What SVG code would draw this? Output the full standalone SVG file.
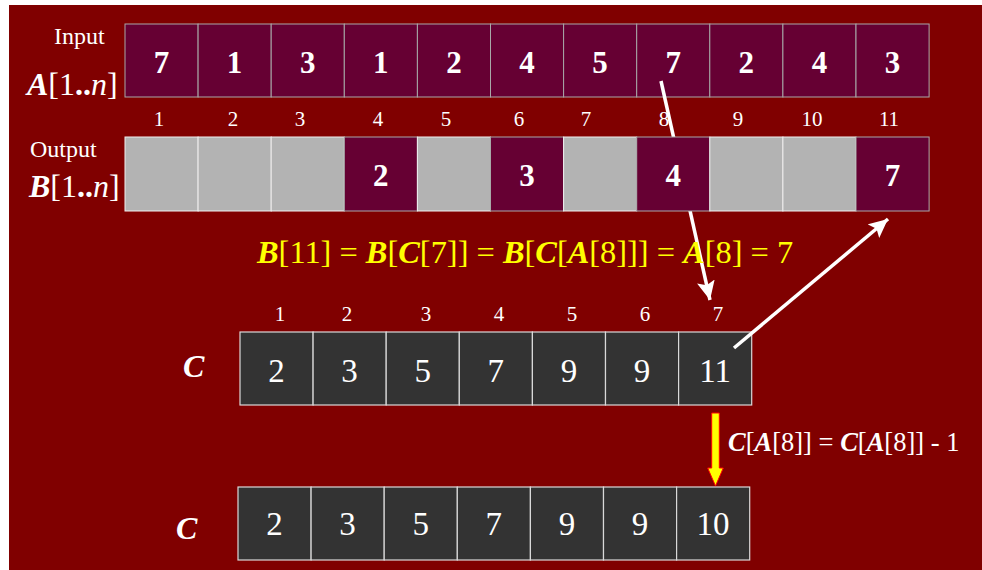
<svg xmlns="http://www.w3.org/2000/svg" width="982" height="570" viewBox="0 0 982 570">
<style>
text{font-family:"Liberation Serif","Times New Roman",serif;fill:#fff}
.a{fill:#660033;stroke:#a8a8a8;stroke-width:1}
.g{fill:#b3b3b3;stroke:#f0f0f0;stroke-width:1}
.c{fill:#333333;stroke:#d9d9d9;stroke-width:1.2}
.bv{font-size:31px;font-weight:bold;text-anchor:middle}
.cv{font-size:33px;text-anchor:middle}
.ix{font-size:21px;text-anchor:middle}
.lbl{font-size:24px}
.big{font-size:32px}
.eq{font-size:32.4px;fill:#ffff00}
.bi{font-weight:bold;font-style:italic}
.wl{stroke:#fff;stroke-width:3.5;fill:none}
</style>
<defs>
<marker id="ah" markerUnits="userSpaceOnUse" markerWidth="22" markerHeight="20" refX="19" refY="9" orient="auto">
<path d="M0,0 L19,9 L0,18 L4,9 Z" fill="#fff"/>
</marker>
</defs>
<rect x="9" y="5" width="973" height="565" fill="#800000"/>
<g id="labels">
<text class="lbl" x="54" y="44">Input</text>
<text class="big" x="27" y="95"><tspan class="bi">A</tspan>[1<tspan font-weight="bold">..</tspan><tspan font-style="italic">n</tspan>]</text>
<text class="lbl" x="30" y="157">Output</text>
<text class="big" x="29" y="197"><tspan class="bi">B</tspan>[1<tspan font-weight="bold">..</tspan><tspan font-style="italic">n</tspan>]</text>
</g>
<g id="arrayA">
<rect class="a" x="125" y="24" width="73.1" height="73"/>
<rect class="a" x="198.1" y="24" width="73.1" height="73"/>
<rect class="a" x="271.2" y="24" width="73.1" height="73"/>
<rect class="a" x="344.3" y="24" width="73.1" height="73"/>
<rect class="a" x="417.4" y="24" width="73.1" height="73"/>
<rect class="a" x="490.5" y="24" width="73.1" height="73"/>
<rect class="a" x="563.6" y="24" width="73.1" height="73"/>
<rect class="a" x="636.7" y="24" width="73.1" height="73"/>
<rect class="a" x="709.8" y="24" width="73.1" height="73"/>
<rect class="a" x="782.9" y="24" width="73.1" height="73"/>
<rect class="a" x="856" y="24" width="73.1" height="73"/>
<text class="bv" x="161.5" y="73">7</text>
<text class="bv" x="234.6" y="73">1</text>
<text class="bv" x="307.7" y="73">3</text>
<text class="bv" x="380.8" y="73">1</text>
<text class="bv" x="453.9" y="73">2</text>
<text class="bv" x="527" y="73">4</text>
<text class="bv" x="600.1" y="73">5</text>
<text class="bv" x="673.2" y="73">7</text>
<text class="bv" x="746.3" y="73">2</text>
<text class="bv" x="819.4" y="73">4</text>
<text class="bv" x="892.5" y="73">3</text>
</g>
<g id="indexA">
<text class="ix" x="159" y="126">1</text>
<text class="ix" x="233" y="126">2</text>
<text class="ix" x="300" y="126">3</text>
<text class="ix" x="378" y="126">4</text>
<text class="ix" x="446" y="126">5</text>
<text class="ix" x="519" y="126">6</text>
<text class="ix" x="586" y="126">7</text>
<text class="ix" x="664" y="126">8</text>
<text class="ix" x="738" y="126">9</text>
<text class="ix" x="812" y="126">10</text>
<text class="ix" x="889" y="126">11</text>
</g>
<g id="connectors">
<line class="wl" x1="661" y1="81" x2="710" y2="300" marker-end="url(#ah)"/>
</g>
<g id="arrayB">
<rect class="g" x="125" y="137" width="73.1" height="74"/>
<rect class="g" x="198.1" y="137" width="73.1" height="74"/>
<rect class="g" x="271.2" y="137" width="73.1" height="74"/>
<rect class="a" x="344.3" y="137" width="73.1" height="74"/>
<rect class="g" x="417.4" y="137" width="73.1" height="74"/>
<rect class="a" x="490.5" y="137" width="73.1" height="74"/>
<rect class="g" x="563.6" y="137" width="73.1" height="74"/>
<rect class="a" x="636.7" y="137" width="73.1" height="74"/>
<rect class="g" x="709.8" y="137" width="73.1" height="74"/>
<rect class="g" x="782.9" y="137" width="73.1" height="74"/>
<rect class="a" x="856" y="137" width="73.1" height="74"/>
<text class="bv" x="380.8" y="186">2</text>
<text class="bv" x="527" y="186">3</text>
<text class="bv" x="673.2" y="186">4</text>
<text class="bv" x="892.5" y="186">7</text>
</g>
<g id="equation">
<text class="eq" x="257" y="263"><tspan class="bi">B</tspan>[11] = <tspan class="bi">B</tspan>[<tspan class="bi">C</tspan>[7]] = <tspan class="bi">B</tspan>[<tspan class="bi">C</tspan>[<tspan class="bi">A</tspan>[8]]] = <tspan class="bi">A</tspan>[8] = 7</text>
</g>
<g id="indexC">
<text class="ix" x="280" y="321">1</text>
<text class="ix" x="347" y="321">2</text>
<text class="ix" x="426" y="321">3</text>
<text class="ix" x="499" y="321">4</text>
<text class="ix" x="572" y="321">5</text>
<text class="ix" x="645" y="321">6</text>
<text class="ix" x="718" y="321">7</text>
</g>
<g id="arrayC1">
<text class="big bi" x="183" y="377">C</text>
<rect class="c" x="240" y="332" width="73.1" height="73"/>
<rect class="c" x="313.1" y="332" width="73.1" height="73"/>
<rect class="c" x="386.2" y="332" width="73.1" height="73"/>
<rect class="c" x="459.3" y="332" width="73.1" height="73"/>
<rect class="c" x="532.4" y="332" width="73.1" height="73"/>
<rect class="c" x="605.5" y="332" width="73.1" height="73"/>
<rect class="c" x="678.6" y="332" width="73.1" height="73"/>
<text class="cv" x="276.5" y="382">2</text>
<text class="cv" x="349.6" y="382">3</text>
<text class="cv" x="422.7" y="382">5</text>
<text class="cv" x="495.8" y="382">7</text>
<text class="cv" x="568.9" y="382">9</text>
<text class="cv" x="642" y="382">9</text>
<text class="cv" x="715.1" y="382">11</text>
</g>
<g id="arrayC2">
<text class="big bi" x="176" y="539">C</text>
<rect class="c" x="238" y="487" width="73.1" height="73"/>
<rect class="c" x="311.1" y="487" width="73.1" height="73"/>
<rect class="c" x="384.2" y="487" width="73.1" height="73"/>
<rect class="c" x="457.3" y="487" width="73.1" height="73"/>
<rect class="c" x="530.4" y="487" width="73.1" height="73"/>
<rect class="c" x="603.5" y="487" width="73.1" height="73"/>
<rect class="c" x="676.6" y="487" width="73.1" height="73"/>
<text class="cv" x="274.5" y="535">2</text>
<text class="cv" x="347.6" y="535">3</text>
<text class="cv" x="420.7" y="535">5</text>
<text class="cv" x="493.8" y="535">7</text>
<text class="cv" x="566.9" y="535">9</text>
<text class="cv" x="640" y="535">9</text>
<text class="cv" x="713.1" y="535">10</text>
</g>
<g id="connectors2">
<line class="wl" x1="734" y1="348" x2="888" y2="219" marker-end="url(#ah)"/>
<path d="M711.7,413 L719.3,413 L719.3,468 L723.3,468 L715.5,486 L707.7,468 L711.7,468 Z" fill="#ffff00" stroke="#ff0000" stroke-width="1"/>
</g>
<g id="decrement">
<text x="728" y="451" style="font-size:26.5px"><tspan class="bi">C</tspan>[<tspan class="bi">A</tspan>[8]] = <tspan class="bi">C</tspan>[<tspan class="bi">A</tspan>[8]] - 1</text>
</g>
</svg>
